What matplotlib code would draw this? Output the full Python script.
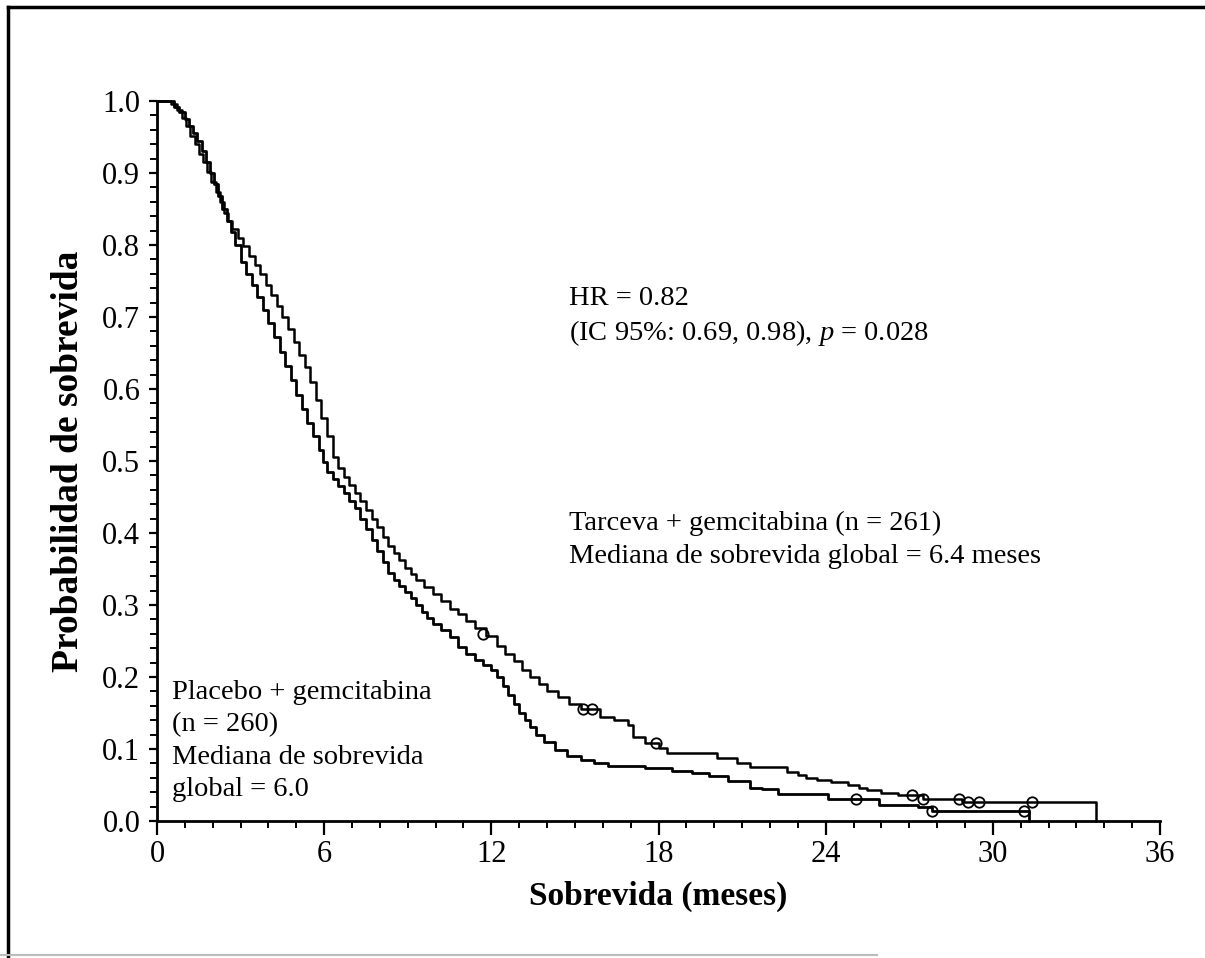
import matplotlib
matplotlib.use('Agg')
import matplotlib.pyplot as plt
from matplotlib.lines import Line2D
from matplotlib.ticker import MultipleLocator

plt.rcParams['font.family'] = ['Liberation Serif', 'DejaVu Serif']
plt.rcParams['mathtext.fontset'] = 'custom'
plt.rcParams['mathtext.rm'] = 'Liberation Serif'
plt.rcParams['mathtext.it'] = 'Liberation Serif:italic'

# Placebo + gemcitabina (n = 260): (meses, probabilidad) at each step
placebo_steps = [(0, 1.0), (0.6, 0.992), (0.8, 0.985), (1.0, 0.975), (1.15, 0.965),
                 (1.3, 0.955), (1.45, 0.945), (1.6, 0.93), (1.75, 0.915), (1.9, 0.9),
                 (2.05, 0.885), (2.2, 0.868), (2.35, 0.85), (2.5, 0.833), (2.65, 0.818),
                 (2.8, 0.8), (3.0, 0.777), (3.2, 0.76), (3.4, 0.745), (3.6, 0.728),
                 (3.8, 0.71), (4.0, 0.692), (4.2, 0.672), (4.4, 0.652), (4.6, 0.632),
                 (4.8, 0.612), (5.0, 0.592), (5.2, 0.572), (5.4, 0.553), (5.6, 0.535),
                 (5.8, 0.515), (5.95, 0.498), (6.1, 0.485), (6.3, 0.475), (6.5, 0.465),
                 (6.7, 0.455), (6.9, 0.445), (7.1, 0.435), (7.3, 0.42), (7.5, 0.405),
                 (7.7, 0.39), (7.9, 0.375), (8.1, 0.36), (8.3, 0.345), (8.5, 0.335),
                 (8.7, 0.327), (8.9, 0.318), (9.1, 0.31), (9.3, 0.3), (9.5, 0.29),
                 (9.7, 0.282), (9.9, 0.274), (10.2, 0.265), (10.5, 0.255), (10.8, 0.242),
                 (11.1, 0.232), (11.4, 0.224), (11.7, 0.217), (12.0, 0.21), (12.2, 0.2),
                 (12.4, 0.188), (12.6, 0.175), (12.8, 0.162), (13.0, 0.15), (13.2, 0.14),
                 (13.4, 0.13), (13.6, 0.12), (13.9, 0.11), (14.3, 0.098), (14.7, 0.09),
                 (15.2, 0.085), (15.7, 0.08), (16.2, 0.076), (17.5, 0.073), (18.5, 0.07),
                 (19.2, 0.067), (19.8, 0.063), (20.5, 0.056), (21.3, 0.046), (21.7, 0.044),
                 (22.3, 0.037), (24.1, 0.031), (25.9, 0.022), (27.3, 0.019), (27.8, 0.014),
                 (31.3, 0.0)]
placebo_censored = [(25.1, 0.031), (27.8, 0.014), (31.1, 0.014)]

# Tarceva + gemcitabina (n = 261)
tarceva_steps = [(0, 1.0), (0.5, 0.996), (0.7, 0.988), (0.9, 0.977), (1.05, 0.965),
                 (1.2, 0.952), (1.35, 0.94), (1.5, 0.927), (1.65, 0.915), (1.8, 0.902),
                 (1.95, 0.888), (2.1, 0.873), (2.25, 0.86), (2.4, 0.845), (2.55, 0.833),
                 (2.7, 0.822), (2.9, 0.81), (3.1, 0.798), (3.3, 0.785), (3.5, 0.772),
                 (3.7, 0.76), (3.9, 0.745), (4.1, 0.73), (4.3, 0.715), (4.5, 0.70),
                 (4.7, 0.683), (4.9, 0.665), (5.1, 0.647), (5.3, 0.63), (5.5, 0.61),
                 (5.7, 0.585), (5.9, 0.56), (6.1, 0.535), (6.3, 0.505), (6.5, 0.49),
                 (6.7, 0.478), (6.9, 0.466), (7.1, 0.455), (7.3, 0.445), (7.5, 0.432),
                 (7.7, 0.42), (7.9, 0.408), (8.1, 0.395), (8.3, 0.382), (8.5, 0.372),
                 (8.7, 0.362), (8.9, 0.352), (9.1, 0.343), (9.3, 0.335), (9.6, 0.325),
                 (9.9, 0.315), (10.2, 0.305), (10.5, 0.295), (10.8, 0.287), (11.1, 0.278),
                 (11.4, 0.268), (11.8, 0.257), (12.2, 0.243), (12.5, 0.232), (12.8, 0.222),
                 (13.1, 0.21), (13.4, 0.2), (13.7, 0.19), (14.0, 0.18), (14.4, 0.172),
                 (14.8, 0.163), (15.2, 0.155), (15.9, 0.144), (16.4, 0.14), (16.9, 0.133),
                 (17.1, 0.117), (17.5, 0.108), (18.0, 0.101), (18.3, 0.094), (20.1, 0.0875),
                 (20.8, 0.08), (21.3, 0.075), (22.6, 0.068), (23.0, 0.064), (23.3, 0.06),
                 (23.7, 0.057), (24.2, 0.054), (24.8, 0.05), (25.2, 0.046), (25.5, 0.043),
                 (26.0, 0.039), (26.6, 0.036), (27.5, 0.031), (28.9, 0.027), (33.7, 0.0)]
tarceva_censored = [(11.7, 0.26), (15.3, 0.155), (15.6, 0.155), (17.9, 0.108),
                    (27.1, 0.036), (27.5, 0.031), (28.8, 0.031), (29.1, 0.027),
                    (29.5, 0.027), (31.4, 0.027)]

x_ticks = [0, 6, 12, 18, 24, 30, 36]
y_ticks = [0.0, 0.1, 0.2, 0.3, 0.4, 0.5, 0.6, 0.7, 0.8, 0.9, 1.0]

fig = plt.figure(figsize=(12.05, 9.58), dpi=100)
ax = fig.add_axes([0.1303, 0.143, 0.8324, 0.7516])

### curves
for steps, censored, lw in [(placebo_steps, placebo_censored, 2.0),
                            (tarceva_steps, tarceva_censored, 1.8)]:
    t = [p[0] for p in steps]
    s = [p[1] for p in steps]
    ax.step(t, s, where='post', color='black', lw=lw, clip_on=False)
    ax.plot([c[0] for c in censored], [c[1] for c in censored], 'o', mfc='none',
            mec='black', ms=7.5, mew=1.3, clip_on=False)

### axes
ax.set_xlim(0, 36)
ax.set_ylim(0, 1.0)
ax.spines['top'].set_visible(False)
ax.spines['right'].set_visible(False)
ax.spines['left'].set_linewidth(2)
ax.spines['bottom'].set_linewidth(2)
ax.set_xticks(x_ticks)
ax.set_xticklabels([str(v) for v in x_ticks])
ax.set_yticks(y_ticks)
ax.set_yticklabels(['%.1f' % v for v in y_ticks])
ax.xaxis.set_minor_locator(MultipleLocator(1))
ax.yaxis.set_minor_locator(MultipleLocator(0.02))
ax.tick_params(axis='x', which='major', length=10, width=1.6, labelsize=22, pad=4)
ax.tick_params(axis='x', which='minor', length=5, width=1.4)
ax.tick_params(axis='y', which='major', length=6, width=1.6, labelsize=22, pad=6)
ax.tick_params(axis='y', which='minor', length=5, width=1.4)

ax.set_xlabel('Sobrevida (meses)', fontsize=24, fontweight='bold', labelpad=8)
ax.set_ylabel('Probabilidad de sobrevida', fontsize=27, fontweight='bold', labelpad=12)

### annotations
ax.text(14.8, 0.70, 'HR = 0.82\n(IC 95%: 0.69, 0.98), $p$ = 0.028',
        fontsize=20.5, va='center', ha='left', linespacing=1.33)
ax.text(14.8, 0.39, 'Tarceva + gemcitabina (n = 261)\nMediana de sobrevida global = 6.4 meses',
        fontsize=20.5, va='center', ha='left', linespacing=1.42)
ax.text(0.55, 0.111, 'Placebo + gemcitabina\n(n = 260)\nMediana de sobrevida\nglobal = 6.0',
        fontsize=20.5, va='center', ha='left', linespacing=1.38)

### frame around the figure
fig.add_artist(Line2D([8 / 1205, 8 / 1205], [0, 1 - 7 / 958], transform=fig.transFigure,
                      color='black', lw=2.5))
fig.add_artist(Line2D([8 / 1205, 1], [1 - 7 / 958, 1 - 7 / 958], transform=fig.transFigure,
                      color='black', lw=2.5))
fig.add_artist(Line2D([0, 877 / 1205], [3 / 958, 3 / 958], transform=fig.transFigure,
                      color='#bbbbbb', lw=1.5))

fig.savefig('out.png', dpi=100)
